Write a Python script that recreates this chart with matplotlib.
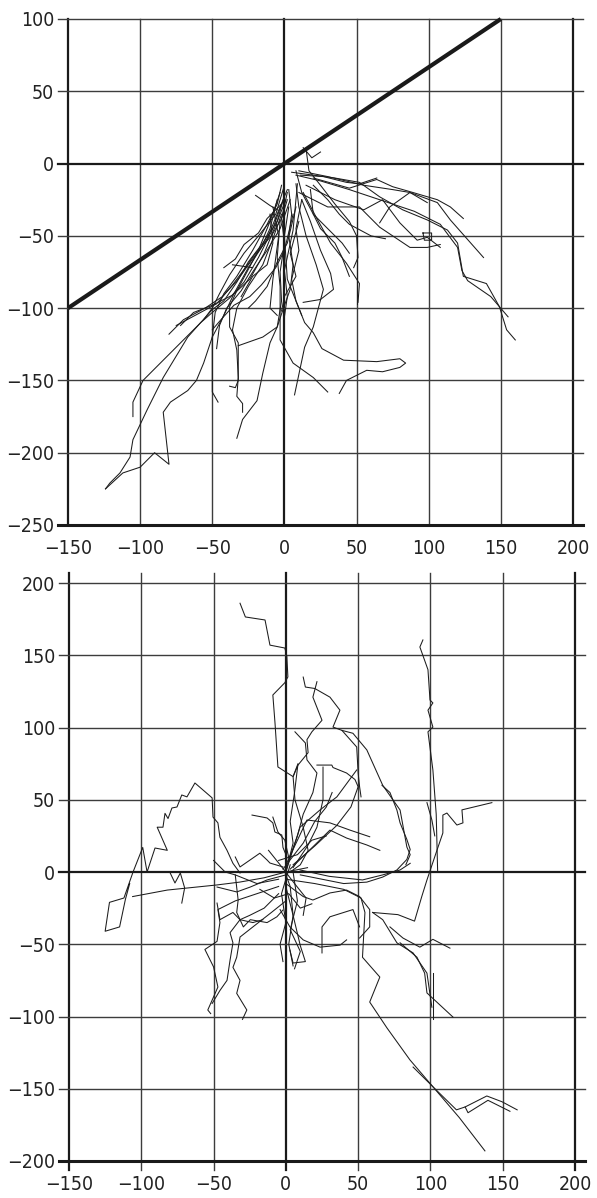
import matplotlib
matplotlib.use("Agg")
import matplotlib.pyplot as plt
import numpy as np

plt.rcParams['font.family'] = ['DejaVu Sans']
plt.rcParams['font.stretch'] = 'condensed'

# upper panel: x/y traces plus reference line y = 2x/3
top_xticks = [-150, -100, -50, 0, 50, 100, 150, 200]
top_yticks = [-250, -200, -150, -100, -50, 0, 50, 100]
ref_x = [-150, 150]
ref_y = [-100, 100]

top_tracks = [
    [(0, -22), (-5, -40), (-15, -55), (-25, -68), (-33, -82), (-42, -95), (-50, -101), (-67, -120), (-84, -148),
     (-95, -170), (-105, -191), (-107, -203), (-114, -214), (-121, -221), (-124, -225)],
    [(-124, -225), (-112, -214), (-100, -210), (-90, -200), (-80, -208), (-84, -172), (-79, -165), (-67, -157),
     (-61, -150), (-56, -138), (-50, -120), (-42, -105), (-35, -90), (-25, -72), (-12, -52), (-3, -30), (2, -18)],
    [(-105, -175), (-105, -165), (-98, -150), (-86, -138), (-72, -124), (-58, -110), (-50, -103), (-38, -93),
     (-28, -82), (-18, -65), (-8, -45), (-2, -28)],
    [(-72, -112), (-63, -103), (-50, -98), (-36, -91), (-24, -80), (-14, -62), (-5, -40), (1, -25)],
    [(-46, -165), (-50, -158), (-50, -120), (-48, -103), (-42, -90), (-33, -78), (-22, -60), (-12, -42),
     (-5, -28), (-2, -15)],
    [(-38, -154), (-34, -155), (-32, -150), (-32, -124), (-38, -113), (-38, -99), (-33, -88), (-26, -75),
     (-18, -60), (-10, -40), (-3, -20)],
    [(-29, -172), (-29, -166), (-33, -161), (-32, -148), (-33, -129), (-36, -115), (-33, -100), (-25, -85),
     (-15, -70), (-8, -52), (-2, -35)],
    [(-32, -126), (-15, -120), (-5, -113), (-1, -101), (4, -87), (6, -70), (3, -50), (5, -35), (3, -18)],
    [(-33, -190), (-29, -177), (-19, -164), (-15, -145), (-10, -124), (-5, -113), (-2, -95), (-3, -75),
     (0, -55), (-2, -38), (2, -25)],
    [(-3, -40), (-5, -65), (-3, -85), (-3, -110), (-3, -122), (6, -138), (20, -148), (30, -158)],
    [(7, -160), (14, -127), (20, -113), (27, -87), (22, -70), (15, -50), (10, -30), (8, -14)],
    [(3, -30), (0, -50), (2, -80), (14, -110), (20, -117), (26, -128), (41, -136), (64, -137), (80, -135),
     (84, -138), (80, -141), (68, -144), (57, -143), (43, -150), (38, -159)],
    [(9, -14), (6, -46), (0, -74), (2, -92), (0, -106)],
    [(13, -20), (23, -39), (32, -55), (43, -69), (52, -83), (51, -96)],
    [(13, -96), (25, -94), (34, -87), (32, -76), (25, -60), (18, -40), (12, -25)],
    [(-20, -22), (-10, -29), (-5, -32)],
    [(-36, -70), (-22, -72)],
    [(5, -6), (20, -8), (35, -10), (52, -13), (66, -23), (82, -32), (99, -39), (113, -46), (120, -55),
     (124, -78), (140, -83), (149, -99), (154, -115), (160, -122)],
    [(8, -8), (25, -12), (45, -18), (66, -25), (90, -33), (108, -42), (120, -58), (123, -74), (127, -81),
     (143, -92), (155, -106)],
    [(10, -5), (30, -9), (55, -15), (75, -18), (87, -20), (106, -27), (115, -39), (138, -65)],
    [(11, -8), (27, -9), (43, -13), (52, -14), (64, -10)],
    [(20, -10), (45, -17), (64, -11), (75, -16), (89, -20), (106, -25), (115, -30), (124, -38)],
    [(15, -15), (35, -25), (55, -32), (68, -25), (80, -41), (92, -53), (99, -51), (108, -58)],
    [(10, -20), (30, -30), (52, -30), (66, -44), (87, -58), (99, -58), (108, -56)],
    [(66, -41), (73, -30), (87, -20), (99, -27)],
    [(13, 11), (19, 4), (25, 8)],
    [(15, 10), (17, -5), (25, -15), (35, -28), (45, -40), (50, -50), (51, -65), (48, -72)],
    [(50, -25), (50, -60), (50, -97)],
    [(8, -5), (12, -20), (20, -35), (30, -45), (40, -55), (45, -62)],
    [(20, -15), (30, -25), (38, -35), (45, -42), (60, -50), (70, -52)],
    [(0, -15), (-6, -35), (-18, -50), (-28, -62), (-38, -77), (-45, -90), (-50, -100), (-56, -108)],
    [(4, -25), (-3, -45), (-12, -60), (-22, -75), (-30, -88), (-40, -100), (-45, -112), (-47, -128)],
    [(-5, -25), (-10, -45), (-16, -58), (-25, -70), (-32, -80), (-43, -92), (-55, -100), (-70, -108), (-80, -118)],
    [(8, -30), (2, -55), (-5, -68), (-12, -85), (-20, -95), (-25, -100)],
    [(-10, -35), (-8, -55), (-12, -70), (-22, -78), (-30, -92)],
    [(12, -25), (8, -45), (10, -60), (5, -80), (8, -95), (12, -105)],
    [(-8, -30), (-4, -50), (-8, -80), (-10, -100), (-5, -105)],
    [(18, -18), (20, -35), (25, -45), (35, -55), (40, -65), (45, -78)],
    [(2, -20), (-2, -38), (-9, -50), (-20, -62), (-27, -72), (-36, -84), (-47, -97), (-60, -104), (-75, -112)],
    [(6, -35), (0, -60), (-6, -72), (-16, -84), (-24, -92), (-35, -98), (-44, -108), (-50, -115)],
    [(-2, -28), (-12, -38), (-18, -48), (-28, -56), (-34, -66), (-42, -72)],
    [(10, -40), (4, -62), (8, -78), (0, -92), (-2, -102)],
    [(96, -48), (102, -48), (102, -53), (97, -53), (96, -48)],
]

# lower panel: x/y traces
bot_xticks = [-150, -100, -50, 0, 50, 100, 150, 200]
bot_yticks = [-200, -150, -100, -50, 0, 50, 100, 150, 200]

bot_tracks = [
    [(-31.7, 186), (-28, 176.5), (-14.4, 174.4), (-11, 157), (-0.7, 155), (0.7, 149), (1.4, 135), (-0.7, 131),
     (-9, 122.5), (-7.5, 103), (-5.5, 72.7), (5, 66), (8.4, 75), (6, 55), (3, 35), (5, 20), (2, 8), (0, 0)],
    [(-31.7, -0.7), (-36.6, 6), (-40.7, 15), (-45.6, 24), (-47, 34), (-50.4, 38), (-51, 51.3), (-62.9, 61.6),
     (-68.4, 52), (-72, 53.3), (-75.3, 45), (-78.8, 44.3), (-81.5, 37), (-83.6, 40.6), (-85, 31), (-89, 31),
     (-82, 15), (-90.5, 16.6), (-96, 0), (-99, 17), (-105.7, 0), (-112, -18), (-122, -21), (-125, -41),
     (-115, -38), (-111, -19), (-108, -8)],
    [(-106, -17), (-82, -12.5), (-48, -9), (-32, -7), (-15, -4), (0, 0), (15, 3)],
    [(-5, -10), (-20, -15), (-35, -20), (-47, -26), (-45.6, -35), (-47.6, -48), (-56, -53.6), (-50, -65.7),
     (-47, -79.6), (-54, -95.5), (-52, -98)],
    [(-5, -15), (-15, -25), (-25, -30), (-31.7, -33), (-38.6, -42), (-36.6, -49), (-38.6, -61), (-40.7, -75),
     (-45.6, -82), (-51, -91)],
    [(0, -20), (-10, -28), (-22.8, -38), (-31.7, -45), (-34, -59), (-36.6, -66), (-31.7, -75), (-34, -84),
     (-27, -95.5), (-30, -102)],
    [(-23.4, 39.4), (-13, 37.4), (-9, 34), (-7.6, 27.7), (-2.8, 25.6), (-2, 17), (0.7, 10.4), (-0.7, 0),
     (3, -10), (5, -30), (2, -50), (5, -65)],
    [(-9, 38), (-5.5, 27.7), (-0.7, 22), (2, 10)],
    [(-80, -0.7), (-76.7, -7.6), (-73, -0.7), (-70, -11), (-72, -21.5)],
    [(-35, 10.4), (-31.7, 3.5), (-18, 13), (-13, 8.3), (-11, 6.2), (-2, 3.5)],
    [(-35, -2), (-33, -19.4), (-34, -28), (-29.4, -38), (-24.6, -33), (-13, -35), (-6.2, -31), (-2, -26.3)],
    [(-47.6, -21.5), (-45.6, -33), (-36.6, -28), (-31.7, -33), (-22.8, -35), (-15.9, -33)],
    [(-47.6, -10.4), (-34, -13.8), (-24.6, -10.4), (-13, -5.5), (0, -2)],
    [(94.8, 160.6), (92.7, 155.7), (98.3, 140), (99.7, 119), (101.7, 117), (98.3, 112), (101.7, 100.3),
     (98.3, 97), (101.7, 70.6), (104, 40), (105, 0)],
    [(97.6, 48), (101, 36), (103, 25)],
    [(60, -28), (77.5, -29.5), (89, -34), (94, -17), (97.6, -5.5), (104.5, 15), (108.6, 27), (108.6, 39.4),
     (111.4, 40.8), (118.3, 32.5), (122.5, 34), (121.8, 43), (142.5, 48)],
    [(9.8, 1.4), (30, -3), (53, -5.5), (67, -2), (79, 1.4), (86, 6)],
    [(38.8, 98), (46.4, 96), (56, 84.5), (67, 60), (79, 42.9), (83.7, 17.3), (86, 12), (83, 5)],
    [(66.5, 60), (72, 55), (76.8, 42.9), (79, 34), (83.7, 22.5), (86, 15.6), (83.7, 8.7), (76.8, 1.4),
     (67, -3.5), (56, -7), (40, -8), (25, -5), (10, -2)],
    [(12, 134.9), (13.5, 128), (20, 127), (30.5, 121), (37.4, 112), (32.6, 100.3), (38.8, 98), (49, 86.5),
     (50, 68.5), (51, 59), (52, 52)],
    [(21.5, 131.7), (18.7, 121), (25, 105), (18, 97), (14.6, 91.6), (15.4, 82.6), (8.4, 74), (5, 66),
     (6.3, 50), (12, 31), (15.4, 15), (10, 5), (3, 0)],
    [(6.3, 97), (13.5, 89.3), (14.6, 77.6), (21.5, 68.5), (18.7, 55), (12, 40), (8, 25), (2, 8)],
    [(21.5, 74), (31.8, 74), (32.6, 72.3), (42, 68.5), (47.8, 64), (50, 59), (45, 45), (35, 32), (20, 18), (5, 5)],
    [(25.7, 72.6), (25.7, 50), (21.5, 31), (15, 18), (5, 3)],
    [(0, 5), (14.6, 36), (30.5, 34), (44.3, 29), (58, 24.4)],
    [(3, 2), (30.5, 29), (42, 23.5), (56, 18.7), (65, 15)],
    [(0, 0), (9.8, 31), (23.7, 43), (35.3, 52), (49, 70.6)],
    [(-2, 2), (12, 20), (20, 35), (28, 45), (32, 55)],
    [(-5, 8), (8, 12), (18, 22), (28, 25)],
    [(0, -5), (20, -8), (40, -12), (52, -18), (54.7, -28), (53, -59), (65, -72.7), (58, -90), (70, -108),
     (85.8, -130), (101.7, -148.6), (120, -170), (137.7, -193)],
    [(88, -135), (101.7, -148.6), (118, -164.6), (124, -162.6), (139, -155), (149.5, -159), (160, -164.6)],
    [(124, -162.6), (126, -166.6), (139.8, -158), (155, -165.6)],
    [(60, -28), (67, -33), (76.8, -49), (88, -56), (97.6, -70), (101, -93.6)],
    [(79, -49), (90.7, -59), (96, -70), (97.6, -83.7), (115.6, -100.4)],
    [(101.7, -70), (101.7, -102)],
    [(72, -38), (81, -45.7), (92.7, -52), (101.7, -46.6), (113.5, -52.7)],
    [(-4, -26), (2.8, -38), (12, -47), (23.7, -52), (37.5, -50.6), (42, -47)],
    [(51, -45.7), (58, -38), (58, -26), (51, -17), (42, -12.5), (30.5, -14.5), (18.7, -19.4), (12, -17), (0, -8)],
    [(25, -56), (25, -38), (30.5, -31), (46.4, -26), (51, -38)],
    [(2.8, -54), (5, -63), (13.5, -62), (10, -51), (5, -30), (0, -10)],
    [(-50, 8), (-42, 0), (-35, -2), (-20, -8), (-5, -5)],
    [(3, 5), (-3, -15), (0, -35), (-4, -50), (-2, -62)],
    [(5, 0), (8, -20), (3, -40), (10, -55), (6, -67)],
    [(-18, -12), (-8, -18), (2, -15), (10, -25), (18, -22)],
    [(-12, 15), (-4, 5), (6, -8), (14, -18), (12, -30)],
]

TRACK_COLOR = '#1c1c1c'
GRID_COLOR = '#3c3c3c'
AXIS_COLOR = '#1a1a1a'
TEXT_COLOR = '#222222'

fig = plt.figure(figsize=(5.97, 11.98), dpi=100)
ax1 = fig.add_axes([68 / 597, 1 - 525 / 1198, 505 / 597, 506 / 1198])
ax2 = fig.add_axes([69 / 597, 1 - 1161 / 1198, 506 / 597, 578 / 1198])


def frame(ax, xticks, yticks, over_top, below_bottom):
    x0, x1 = xticks[0], xticks[-1]
    y0, y1 = yticks[0], yticks[-1]
    ax.set_xlim(x0, x1)
    ax.set_ylim(y0, y1)
    for s in ax.spines.values():
        s.set_visible(False)
    ext = 7
    for x in xticks:
        heavy = x in (x0, 0, x1)
        ax.plot([x, x], [y0 - below_bottom, y1 + over_top], color=AXIS_COLOR if heavy else GRID_COLOR,
                lw=1.6 if heavy else 1.0, clip_on=False, zorder=1)
    for y in yticks:
        heavy = y in (y0, 0)
        ax.plot([x0 - ext, x1 + ext], [y, y], color=AXIS_COLOR if heavy else GRID_COLOR,
                lw=2.2 if y == y0 else (1.6 if heavy else 1.0), clip_on=False, zorder=1)
    ax.set_xticks(xticks)
    ax.set_yticks(yticks)
    ax.set_xticklabels([f"{v:d}".replace('-', '\u2212') for v in xticks])
    ax.set_yticklabels([f"{v:d}".replace('-', '\u2212') for v in yticks])
    ax.tick_params(length=0, labelsize=14, colors=TEXT_COLOR)
    ax.tick_params(axis='y', pad=10)
    ax.tick_params(axis='x', pad=10)


frame(ax1, top_xticks, top_yticks, 0, 0)
frame(ax2, bot_xticks, bot_yticks, 7, 6)

for tr in top_tracks:
    xs, ys = zip(*tr)
    ax1.plot(xs, ys, color=TRACK_COLOR, lw=0.75, zorder=3)
ax1.plot(ref_x, ref_y, color='#1a1a1a', lw=3.0, solid_capstyle='butt', zorder=4, clip_on=False)

for tr in bot_tracks:
    xs, ys = zip(*tr)
    ax2.plot(xs, ys, color=TRACK_COLOR, lw=0.75, zorder=3)

fig.savefig("out.png", dpi=100, facecolor='white')
